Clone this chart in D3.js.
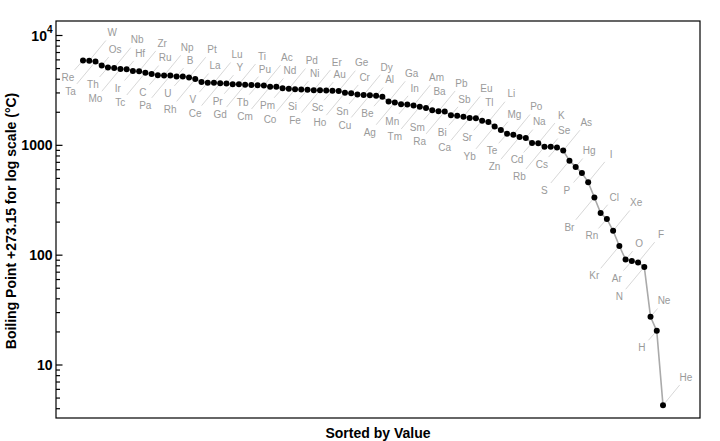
<!DOCTYPE html>
<html><head><meta charset="utf-8">
<script src="https://cdn.jsdelivr.net/npm/d3@7"></script>
<style>body{margin:0;background:#fff}</style>
</head><body>
<svg id="c" width="720" height="441"></svg>
<script>
// Elements sorted by boiling point (descending)
const elements = ["Re","W","Ta","Os","Th","Nb","Mo","Hf","Ir","Zr","Tc","Ru","C","Np","Pa","B","U","Pt","Rh","La",
  "V","Lu","Ce","Y","Pr","Ti","Gd","Pu","Tb","Ac","Cm","Nd","Pm","Pd","Co","Ni","Si","Er","Fe","Au",
  "Sc","Ge","Ho","Cr","Sn","Dy","Cu","Al","Be","Ga","Ag","In","Mn","Am","Tm","Ba","Sm","Pb","Ra","Sb",
  "Bi","Eu","Ca","Tl","Sr","Li","Yb","Mg","Te","Po","Zn","Na","Cd","K","Rb","Se","Cs","As","S","Hg",
  "P","I","Br","Cl","Rn","Xe","Kr","O","Ar","F","N","Ne","H","He"];
// Boiling points in °C
const boilingC = [5596,5555,5458,5012,4788,4744,4639,4603,4428,4409,4265,4150,4027,4000,4000,3927,3927,3825,3695,3464,
  3407,3402,3360,3345,3290,3287,3250,3232,3223,3198,3110,3100,3000,2963,2927,2913,2900,2868,2861,2856,
  2836,2820,2700,2671,2602,2567,2562,2519,2469,2204,2162,2072,2061,2011,1950,1897,1794,1749,1737,1587,
  1564,1529,1484,1473,1382,1342,1196,1090,988,962,907,883,767,759,688,685,671,614,444.6,356.7,
  280.5,184.3,58.8,-34.04,-61.7,-108.1,-153.2,-182.9,-185.8,-188.1,-195.8,-246.0,-252.9,-268.9];
const yTickValues = [10, 100, 1000, 10000];
const yTickLabels = ["10", "100", "1000", "10^4"];
const xTitle = "Sorted by Value";
const yTitle = "Boiling Point +273.15 for log scale (°C)";

const data = elements.map((e, i) => ({name: e, i: i, v: boilingC[i] + 273.15}));

const svg = d3.select("#c");
const L = 56, R = 700, T = 21, B = 418;

const x = d3.scaleLinear().domain([0, data.length - 1]).range([83, 663]);
const y = d3.scaleLog().domain([10, 10000]).range([364.5, 35]);

// frame
svg.append("rect").attr("x", L).attr("y", T).attr("width", R - L).attr("height", B - T)
  .attr("fill", "none").attr("stroke", "#000").attr("stroke-width", 1.2);

// minor ticks
const minor = [];
[1, 10, 100, 1000].forEach(d => { for (let k = 2; k <= 9; k++) minor.push(d * k); });
const minorIn = minor.filter(v => y(v) > T && y(v) < B);
const gAxis = svg.append("g").attr("transform", `translate(${L},0)`);
gAxis.call(d3.axisRight(y).tickValues(minorIn).tickSize(4).tickFormat(""));
gAxis.append("g").call(d3.axisRight(y).tickValues(yTickValues).tickSize(6.5).tickFormat(""));
gAxis.selectAll(".domain").remove();
gAxis.selectAll("line").attr("stroke", "#000").attr("stroke-width", 1.2);

// tick labels
yTickValues.forEach((v, k) => {
  const lab = yTickLabels[k];
  const t = svg.append("text").attr("x", 52.5).attr("y", y(v)).attr("dy", "0.36em")
    .attr("text-anchor", "end").attr("font-family", "Liberation Sans, Arial, sans-serif")
    .attr("font-weight", "bold").attr("font-size", 14).attr("fill", "#000");
  if (lab.includes("^")) {
    const [b, e] = lab.split("^");
    t.append("tspan").text(b).attr("dy", "0.4em");
    t.append("tspan").text(e).attr("font-size", 10).attr("dy", "-0.75em");
    t.attr("dy", null);
  } else t.text(lab);
});

// titles
svg.append("text").attr("x", (L + R) / 2).attr("y", 437.5).attr("text-anchor", "middle")
  .attr("font-family", "Liberation Sans, Arial, sans-serif").attr("font-weight", "bold")
  .attr("font-size", 14).text(xTitle);
svg.append("text").attr("transform", `translate(16,221) rotate(-90)`).attr("text-anchor", "middle")
  .attr("font-family", "Liberation Sans, Arial, sans-serif").attr("font-weight", "bold")
  .attr("font-size", 14).text(yTitle);

// label offsets by level (i mod 4)
const offs = [[-15, 17], [23, -28], [-25, 30], [13.5, -16]];

const gLead = svg.append("g");
data.forEach(d => {
  const [ox, oy] = offs[d.i % 4];
  const len = Math.hypot(ox, oy);
  const f = (len - 10) / len;
  gLead.append("line").attr("x1", x(d.i)).attr("y1", y(d.v))
    .attr("x2", x(d.i) + ox * f).attr("y2", y(d.v) + oy * f)
    .attr("stroke", "#d2d2d2").attr("stroke-width", 0.9);
});

// connecting line
svg.append("path").datum(data)
  .attr("d", d3.line().x(d => x(d.i)).y(d => y(d.v)))
  .attr("fill", "none").attr("stroke", "#aaaaaa").attr("stroke-width", 1.6);

// dots
svg.append("g").selectAll("circle").data(data).join("circle")
  .attr("cx", d => x(d.i)).attr("cy", d => y(d.v)).attr("r", 3).attr("fill", "#000");

// labels
svg.append("g").selectAll("text").data(data).join("text")
  .attr("x", d => x(d.i) + offs[d.i % 4][0])
  .attr("y", d => y(d.v) + offs[d.i % 4][1])
  .attr("dy", "0.35em").attr("text-anchor", "middle")
  .attr("font-family", "Liberation Sans, Arial, sans-serif").attr("font-size", 10)
  .attr("fill", "#9a9a9a").text(d => d.name);
</script>
</body></html>
